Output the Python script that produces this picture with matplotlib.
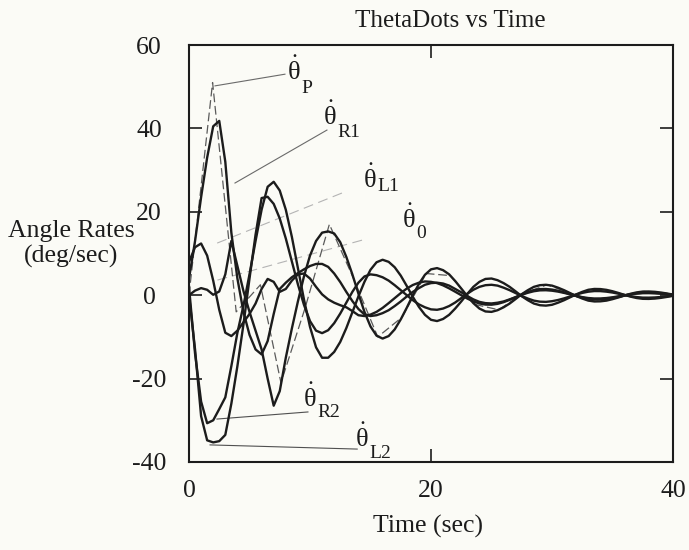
import numpy as np
import matplotlib
matplotlib.use("Agg")
import matplotlib.pyplot as plt

plt.rcParams["font.family"] = ["Liberation Serif", "DejaVu Serif"]
plt.rcParams["mathtext.fontset"] = "custom"
plt.rcParams["mathtext.rm"] = "Liberation Serif"
plt.rcParams["mathtext.it"] = "Liberation Serif"
plt.rcParams["mathtext.bf"] = "Liberation Serif:bold"
plt.rcParams["axes.unicode_minus"] = False

# ---- data -------------------------------------------------------------
time_s = np.arange(0.0, 40.01, 0.5)

theta_r1 = [4, 13, 23.5, 33, 40.5, 41.8, 32, 15, 4, -4, -9.5, -13, -14.2, -11, -4.5,
            1.5, 3, 4.3, 5.3, 6.2, 7.0, 7.5, 7.5, 6.8, 5.2, 3.15, 0.8, -1.4, -3.3, -4.6,
            -5.0, -4.8, -4.3, -3.6, -2.6, -1.5, -0.3, 0.8, 1.7, 2.5, 2.9, 3.0, 2.8, 2.3,
            1.5, 0.7, -0.2, -1.0, -1.6, -1.9, -1.98, -1.8, -1.5, -1.0, -0.46, 0.1, 0.58,
            0.95, 1.16, 1.19, 1.08, 0.86, 0.55, 0.2, -0.15, -0.46, -0.68, -0.79, -0.78,
            -0.68, -0.5, -0.27, -0.03, 0.2, 0.38, 0.48, 0.49, 0.45, 0.36, 0.23, 0.1]

theta_r2 = [2, -14, -25.5, -30.7, -30, -27.3, -24.5, -17, -9, -2.5, 5, 13, 20.5, 26,
            27.2, 25.1, 20.5, 14.0, 6.5, -1.0, -7.6, -12.5, -15.0, -15.0, -13.6, -11.2,
            -7.9, -4.1, -0.3, 3.2, 6.1, 7.9, 8.5, 8.0, 6.7, 4.7, 2.2, -0.4, -2.8, -4.7,
            -5.9, -6.2, -5.7, -4.7, -3.2, -1.5, 0.3, 2.0, 3.2, 3.9, 4.0, 3.6, 2.9, 2.0,
            0.9, -0.25, -1.2, -2.0, -2.4, -2.5, -2.3, -1.8, -1.2, -0.5, 0.2, 0.8, 1.3,
            1.5, 1.47, 1.28, 0.95, 0.53, 0.07, -0.35, -0.68, -0.87, -0.89, -0.81, -0.64,
            -0.41, -0.15]

theta_l1 = [8, 11.5, 12.4, 9.5, 3.5, -3.5, -9, -9.8, -8.5, -6.5, -4.5, -2, 1.5, 3.9,
            3.2, 0.8, 1.5, 3.5, 5.0, 5.2, 4.0, 2.0, 0.2, -1.0, -1.8, -2.4, -2.9, -3.8,
            -4.8, -5.0, -4.65, -4.0, -3.05, -1.9, -0.7, 0.5, 1.6, 2.45, 3.0, 3.3, 3.2,
            2.9, 2.36, 1.64, 0.83, 0.0, -0.8, -1.5, -1.98, -2.25, -2.28, -2.08, -1.67,
            -1.1, -0.47, 0.19, 0.76, 1.2, 1.46, 1.49, 1.35, 1.07, 0.69, 0.25, -0.19,
            -0.57, -0.85, -0.99, -0.98, -0.85, -0.64, -0.35, -0.05, 0.24, 0.45, 0.58,
            0.59, 0.54, 0.43, 0.28, 0.1]

theta_l2 = [0, -13, -29, -34.8, -35.3, -35.0, -33.5, -26, -17, -7, 4, 14.5, 23.3, 23.6,
            21.9, 18.4, 13.6, 8.1, 2.6, -2.3, -6.2, -8.5, -9.1, -8.4, -6.7, -4.4, -1.8,
            0.8, 3.0, 4.5, 5.0, 4.8, 4.3, 3.5, 2.4, 1.2, 0.0, -1.2, -2.2, -2.9, -3.4,
            -3.5, -3.2, -2.6, -1.75, -0.7, 0.35, 1.3, 2.0, 2.4, 2.5, 2.3, 1.8, 1.2, 0.5,
            -0.2, -0.8, -1.3, -1.55, -1.6, -1.44, -1.15, -0.76, -0.3, 0.16, 0.55, 0.84,
            0.99, 0.98, 0.85, 0.64, 0.35, 0.05, -0.24, -0.45, -0.58, -0.59, -0.54, -0.43,
            -0.28, -0.1]

theta_0 = [0, 1.1, 1.7, 1.3, 0.1, 0.9, 5, 13, 7, 1, -4, -8.5, -13, -20, -26.5, -23,
           -15, -8, -1.5, 4.5, 9.5, 13, 15, 15.3, 14.8, 12.7, 9.2, 5.0, 0.4, -4.0, -7.5,
           -9.7, -10.4, -9.8, -8.2, -5.8, -3.0, 0.0, 2.7, 4.9, 6.2, 6.5, 6.0, 5.0, 3.4,
           1.6, -0.2, -1.9, -3.2, -3.9, -4.0, -3.6, -2.9, -2.0, -0.9, 0.25, 1.2, 2.0,
           2.4, 2.5, 2.3, 1.8, 1.2, 0.5, -0.2, -0.8, -1.3, -1.5, -1.47, -1.3, -0.95,
           -0.53, -0.07, 0.35, 0.68, 0.87, 0.89, 0.81, 0.64, 0.41, 0.15]

# pitch rate is logged on a coarser step
time_p = [0, 1.95, 3.9, 5.9, 7.6, 9.6, 11.6, 13.6, 15.6, 17.6, 19.6, 21.6, 23.6,
          25.6, 27.6, 29.6, 31.6, 33.6, 35.6, 37.6, 39.6]
theta_p = [0, 51, -4, 2.5, -21, -3, 17, 4, -10, -5.3, 5.2, 4.7, -2.2, -3.5, 0.4,
           2.5, 0.4, -1.5, -0.5, 0.9, 0.4]

x_ticks = [0, 20, 40]
x_tick_labels = ["0", "20", "40"]
y_ticks = [-40, -20, 0, 20, 40, 60]
y_tick_labels = ["-40", "-20", "0", "20", "40", "60"]

# curve annotations: subscript, symbol anchor (t, v), leader start and end
label_sub = ["P", "R1", "L1", "0", "R2", "L2"]
label_t = [8.1, 11.07, 14.38, 17.6, 9.42, 13.72]
label_v = [51.6, 40.8, 25.7, 16.1, -26.7, -36.3]
sub_drop_px = [13, 12, 3, 10, 10, 11]
leader_t0 = [7.93, 11.4, 12.64, 14.3, 9.83, 13.9]
leader_v0 = [53.0, 39.6, 24.5, 13.2, -28.0, -36.9]
leader_t1 = [2.15, 3.8, 1.9, 2.07, 2.31, 1.74]
leader_v1 = [50.2, 26.9, 12.0, 3.4, -29.7, -35.9]
leader_color = ["#6a6a6a", "#6a6a6a", "#b4b4b4", "#b4b4b4", "#505050", "#505050"]
leader_dash = [None, None, (9, 5), (9, 5), None, None]

# ---- figure -------------------------------------------------------------
bg = "#fbfbf6"
ink = "#1c1c1c"
px = 72 / 100  # points per pixel at 100 dpi
fig = plt.figure(figsize=(6.89, 5.50), dpi=100, facecolor=bg)
ax = fig.add_axes([189 / 689, 1 - 462 / 550, 484 / 689, 417 / 550], facecolor=bg)

for series in (theta_r1, theta_r2, theta_l1, theta_l2, theta_0):
    ax.plot(time_s, series, color=ink, lw=1.7, solid_joinstyle="round", zorder=3)
ax.plot(time_p, theta_p, color="#5a5a5a", lw=0.9, dashes=(7, 3), zorder=2)

for i, sub in enumerate(label_sub):
    kw = dict(color=leader_color[i], lw=0.8, zorder=1)
    if leader_dash[i] is not None:
        kw["dashes"] = leader_dash[i]
    ax.plot([leader_t0[i], leader_t1[i]], [leader_v0[i], leader_v1[i]], **kw)
    ax.text(label_t[i], label_v[i], r"$\dot{\theta}$", fontsize=19, color=ink,
            ha="left", va="baseline", zorder=4)
    ax.annotate(sub, xy=(label_t[i], label_v[i]),
                xytext=(14 * px, -sub_drop_px[i] * px), textcoords="offset points",
                fontsize=14, color=ink, ha="left", va="baseline", zorder=4)

ax.set_xlim(0, 40)
ax.set_ylim(-40, 60)
ax.set_xticks(x_ticks)
ax.set_xticklabels(x_tick_labels)
ax.set_yticks(y_ticks)
ax.set_yticklabels(y_tick_labels)
ax.tick_params(axis="both", which="major", direction="in", length=9.5, width=1.2,
               colors=ink, labelsize=18.5, top=True, right=True)
ax.tick_params(axis="y", pad=28.8)
ax.tick_params(axis="x", pad=13)
for lab in ax.get_yticklabels():
    lab.set_horizontalalignment("center")
for sp in ax.spines.values():
    sp.set_linewidth(1.5)
    sp.set_color(ink)

fig.text(450 / 689, 1 - 21 / 550, "ThetaDots vs Time", fontsize=18, color=ink,
         ha="center", va="center")
fig.text(71 / 689, 1 - 237 / 550, "Angle Rates", fontsize=18.5, color=ink,
         ha="center", va="baseline")
fig.text(71 / 689, 1 - 263 / 550, "(deg/sec)", fontsize=18.5, color=ink,
         ha="center", va="baseline")
fig.text(428 / 689, 1 - 533 / 550, "Time (sec)", fontsize=18.5, color=ink,
         ha="center", va="baseline")

fig.savefig("out.png", dpi=100, facecolor=bg)
